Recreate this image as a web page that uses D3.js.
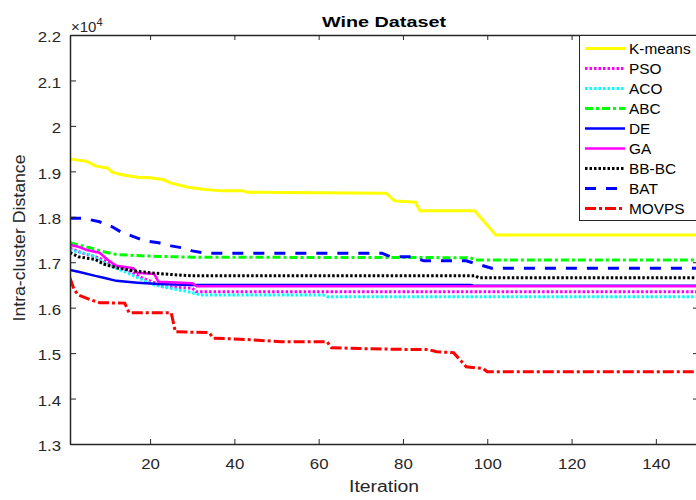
<!DOCTYPE html>
<html><head><meta charset="utf-8">
<script src="https://cdn.jsdelivr.net/npm/d3@7"></script>
<style>body{margin:0;background:#fff}svg{display:block}text{font-family:"Liberation Sans",Arial,Helvetica,sans-serif}</style>
</head><body><svg id="c" width="696" height="500"></svg>
<script>
// values in units of 1e4, [iteration, value]
const kmeans=[[1,1.927],[5,1.922],[7,1.912],[10,1.907],[11,1.898],[13,1.893],[17,1.887],[20,1.886],[23,1.882],[25,1.874],[29,1.865],[33,1.860],[37,1.857],[42,1.857],[43,1.854],[76,1.852],[78,1.835],[83,1.832],[84,1.813],[97,1.813],[102,1.760],[150,1.760]];
const pso=[[1,1.731],[4,1.720],[8,1.709],[12,1.690],[15,1.681],[18,1.666],[21,1.655],[23,1.646],[30,1.643],[31,1.635],[150,1.635]];
const aco=[[1,1.727],[6,1.716],[10,1.694],[14,1.679],[18,1.662],[21,1.650],[29,1.635],[32,1.628],[61,1.628],[62,1.624],[150,1.624]];
const abc=[[1,1.743],[6,1.731],[9,1.723],[12,1.717],[18,1.714],[30,1.711],[96,1.710],[97,1.705],[150,1.705]];
const de=[[1,1.683],[3,1.679],[7,1.670],[9,1.666],[12,1.659],[17,1.655],[22,1.652],[30,1.650],[96,1.650],[97,1.648],[150,1.648]];
const ga=[[1,1.738],[3,1.734],[5,1.727],[8,1.721],[10,1.705],[12,1.692],[16,1.687],[17,1.677],[21,1.674],[22,1.657],[30,1.654],[31,1.647],[150,1.647]];
const bbbc=[[1,1.721],[3,1.712],[7,1.706],[9,1.696],[12,1.688],[16,1.681],[21,1.676],[25,1.673],[30,1.670],[97,1.670],[98,1.666],[150,1.666]];
const bat=[[1,1.797],[4,1.797],[8,1.789],[11,1.778],[13,1.767],[15,1.760],[17,1.753],[19,1.747],[22,1.743],[25,1.736],[28,1.731],[30,1.725],[33,1.720],[75,1.720],[77,1.712],[82,1.712],[85,1.703],[95,1.703],[101,1.687],[150,1.687]];
const movps=[[1,1.665],[2,1.639],[3,1.628],[6,1.617],[8,1.611],[14,1.610],[15,1.589],[25,1.589],[26,1.547],[34,1.545],[35,1.533],[43,1.530],[51,1.525],[62,1.525],[63,1.512],[70,1.510],[81,1.508],[86,1.508],[88,1.503],[92,1.501],[95,1.470],[99,1.466],[100,1.459],[150,1.459]];
const seriesNames=["K-means","PSO","ACO","ABC","DE","GA","BB-BC","BAT","MOVPS"];
const xTicks=[20,40,60,80,100,120,140];
const yTicks=[1.3,1.4,1.5,1.6,1.7,1.8,1.9,2.0,2.1,2.2];
const yTickLabels=["1.3","1.4","1.5","1.6","1.7","1.8","1.9","2","2.1","2.2"];

const series=[
 {data:kmeans,color:"#FFFF00",w:3,dash:null},
 {data:pso,color:"#FF00FF",w:3,dash:"2.5,2"},
 {data:aco,color:"#00FFFF",w:3,dash:"2.5,2"},
 {data:abc,color:"#00FF00",w:3,dash:"8,3,3,3"},
 {data:de,color:"#0000FF",w:2.5,dash:null},
 {data:ga,color:"#FF00FF",w:2.5,dash:null},
 {data:bbbc,color:"#000000",w:3,dash:"2.5,2"},
 {data:bat,color:"#0000FF",w:3,dash:"11,10"},
 {data:movps,color:"#FF0000",w:3,dash:"11,3,3,3"}
];
series.forEach((s,i)=>s.name=seriesNames[i]);

const L=70,R=698,T=35,B=444;
const svg=d3.select("#c");
const x=d3.scaleLinear().domain([1,150]).range([L,R]);
const y=d3.scaleLinear().domain([1.3,2.2]).range([B,T]);
const axc="#262626";

function stretch(sel,k){
  sel.each(function(){
    const len=this.getComputedTextLength();
    d3.select(this).attr("textLength",len*k).attr("lengthAdjust","spacingAndGlyphs");
  });
}

svg.append("defs").append("clipPath").attr("id","clip").append("rect").attr("x",L).attr("y",T).attr("width",R-L).attr("height",B-T);

const line=d3.line().x(d=>x(d[0])).y(d=>y(d[1]));
const g=svg.append("g").attr("clip-path","url(#clip)");
series.forEach(s=>{
  g.append("path").attr("d",line(s.data)).attr("fill","none").attr("stroke",s.color)
   .attr("stroke-width",s.w).attr("stroke-dasharray",s.dash);
});

function styleAxis(sel){
  sel.select(".domain").attr("stroke",axc).attr("stroke-width",1.5);
  sel.selectAll(".tick line").attr("stroke",axc);
  sel.selectAll(".tick text").attr("fill",axc).style("font-size","15px").style("font-family","Liberation Sans,Arial,sans-serif");
}
const xb=svg.append("g").attr("transform",`translate(0,${B})`).call(d3.axisBottom(x).tickValues(xTicks).tickSize(-5).tickSizeOuter(0).tickPadding(14));
styleAxis(xb);
stretch(xb.selectAll(".tick text"),1.12);
const xt=svg.append("g").attr("transform",`translate(0,${T})`).call(d3.axisTop(x).tickValues(xTicks).tickSize(-5).tickSizeOuter(0).tickFormat(""));
styleAxis(xt);
const yl=svg.append("g").attr("transform",`translate(${L},0)`).call(d3.axisLeft(y).tickValues(yTicks).tickSize(-6).tickSizeOuter(0).tickPadding(9).tickFormat((d,i)=>yTickLabels[i]));
styleAxis(yl);
yl.selectAll(".tick text").attr("dy","0.45em");
stretch(yl.selectAll(".tick text"),1.12);
const yr=svg.append("g").attr("transform",`translate(${R},0)`).call(d3.axisRight(y).tickValues(yTicks).tickSize(-5).tickSizeOuter(0).tickFormat(""));
styleAxis(yr);

// exponent
const ex=svg.append("text").attr("x",71).attr("y",32).attr("fill",axc).style("font-size","15px");
ex.append("tspan").text("\u00d710");
ex.append("tspan").attr("dy",-6).style("font-size","11px").text("4");

const title=svg.append("text").attr("x",384).attr("y",27).attr("text-anchor","middle").style("font-size","15px").style("font-weight","bold").attr("fill","#000").text("Wine Dataset");
title.attr("textLength",124).attr("lengthAdjust","spacingAndGlyphs");
svg.append("text").attr("x",384).attr("y",492).attr("text-anchor","middle").style("font-size","16px").attr("fill",axc).text("Iteration")
  .attr("textLength",70).attr("lengthAdjust","spacingAndGlyphs");
svg.append("text").attr("transform","translate(25,238) rotate(-90)").attr("text-anchor","middle").style("font-size","16px").attr("fill",axc).text("Intra-cluster Distance")
  .attr("textLength",167).attr("lengthAdjust","spacingAndGlyphs");

// legend
const lg=svg.append("g");
lg.append("rect").attr("x",579.5).attr("y",35.5).attr("width",117).attr("height",185).attr("fill","#fff").attr("stroke","#262626").attr("stroke-width",1);
series.forEach((s,i)=>{
  const yy=48.5+i*20;
  lg.append("line").attr("x1",585).attr("x2",625).attr("y1",yy).attr("y2",yy).attr("stroke",s.color).attr("stroke-width",s.w).attr("stroke-dasharray",s.dash);
  const t=lg.append("text").attr("x",629).attr("y",yy+5).style("font-size","14px").attr("fill","#000").text(s.name);
  stretch(t,1.1);
});
</script></body></html>
